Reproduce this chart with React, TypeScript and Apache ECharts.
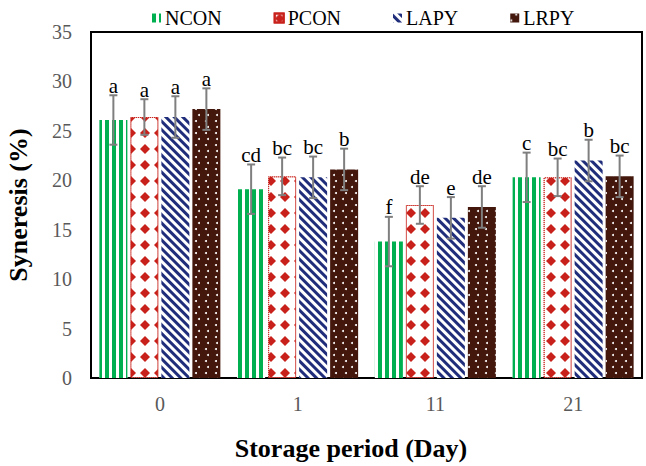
import React, { useEffect, useRef } from "react";
import * as echarts from "echarts";

const categories = ["0", "1", "11", "21"];
const seriesNames = ["NCON", "PCON", "LAPY", "LRPY"];
const nconValues = [26.1, 19.1, 13.8, 20.3];
const pconValues = [26.4, 20.4, 17.5, 20.3];
const lapyValues = [26.4, 20.3, 16.2, 22.0];
const lrpyValues = [27.2, 21.1, 17.3, 20.4];
const nconErr = [2.5, 2.5, 2.5, 2.5];
const pconErr = [1.8, 1.9, 1.9, 1.9];
const lapyErr = [2.1, 2.1, 2.1, 2.1];
const lrpyErr = [2.1, 2.1, 2.1, 2.1];
const nconLetters = ["a", "cd", "f", "c"];
const pconLetters = ["a", "bc", "de", "bc"];
const lapyLetters = ["a", "bc", "e", "b"];
const lrpyLetters = ["a", "b", "de", "bc"];
const yTicks = { min: 0, max: 35, interval: 5 };

const allValues = [nconValues, pconValues, lapyValues, lrpyValues];
const allErr = [nconErr, pconErr, lapyErr, lrpyErr];
const allLetters = [nconLetters, pconLetters, lapyLetters, lrpyLetters];

const SERIF = '"Liberation Serif", "Times New Roman", serif';
const BAR_W = 28;
const BAR_GAP_PX = 3;

export default function App() {
  const ref = useRef<HTMLDivElement>(null);
  useEffect(() => {
    if (!ref.current) return;
    const chart = echarts.init(ref.current, undefined, { renderer: "svg" });

    const styles = [
      {
        itemStyle: {
          color: "#ffffff",
          decal: {
            symbol: "rect",
            symbolSize: 1,
            color: "#00B050",
            dashArrayX: [4, 3],
            dashArrayY: [6, 0],
          },
        },
      },
      {
        itemStyle: {
          color: "#ffffff",
          borderColor: "#C8201A",
          borderWidth: 1,
          borderType: "dotted",
          decal: {
            symbol: "diamond",
            symbolSize: 1,
            color: "#C8201A",
            dashArrayX: [10, 4],
            dashArrayY: [10, 6],
          },
        },
      },
      {
        itemStyle: {
          color: "#ffffff",
          decal: {
            symbol: "rect",
            symbolSize: 1,
            color: "#1F2D7A",
            dashArrayX: [1, 0],
            dashArrayY: [3, 3],
            rotation: Math.PI / 4,
          },
        },
      },
      {
        itemStyle: {
          color: "#43170C",
          decal: {
            symbol: "circle",
            symbolSize: 1,
            color: "#ffffff",
            dashArrayX: [[2, 7], [0, 4.5, 2, 2.5]],
            dashArrayY: [2, 4],
          },
        },
      },
    ];

    const barSeries = seriesNames.map((name, i) => ({
      name,
      type: "bar",
      data: allValues[i],
      barWidth: BAR_W,
      barGap: `${(BAR_GAP_PX / BAR_W) * 100}%`,
      ...styles[i],
    }));

    const errData: number[][] = [];
    allValues.forEach((vals, si) => {
      vals.forEach((v, ci) => {
        errData.push([ci, v, allErr[si][ci], si]);
      });
    });

    const errSeries = {
      type: "custom",
      name: "err",
      data: errData,
      encode: { x: 0, y: 1 },
      z: 10,
      renderItem: (params: any, api: any) => {
        const ci = api.value(0);
        const v = api.value(1);
        const e = api.value(2);
        const si = api.value(3);
        const base = api.coord([ci, v]);
        const x = base[0] + (si - 1.5) * (BAR_W + BAR_GAP_PX);
        const yTop = api.coord([ci, v + e])[1];
        const yBot = api.coord([ci, v - e])[1];
        const lineStyle = { stroke: "#7F7F7F", lineWidth: 2 };
        const cap = 4;
        return {
          type: "group",
          children: [
            { type: "line", shape: { x1: x, y1: yTop, x2: x, y2: yBot }, style: lineStyle },
            { type: "line", shape: { x1: x - cap, y1: yTop, x2: x + cap, y2: yTop }, style: lineStyle },
            { type: "line", shape: { x1: x - cap, y1: yBot, x2: x + cap, y2: yBot }, style: lineStyle },
            {
              type: "text",
              x,
              y: yTop + 1,
              style: {
                text: allLetters[si][ci],
                align: "center",
                verticalAlign: "bottom",
                font: `21px ${SERIF}`,
                fill: "#000000",
              },
            },
          ],
        };
      },
    };

    chart.setOption({
      animation: false,
      backgroundColor: "#ffffff",
      legend: {
        data: seriesNames,
        left: 147,
        top: 3,
        icon: "rect",
        itemWidth: 9,
        itemHeight: 9,
        itemGap: 52,
        textStyle: { fontFamily: SERIF, fontSize: 20, color: "#000000", padding: [0, 0, 0, -1] },
      },
      grid: {
        left: 91,
        right: 4,
        top: 32,
        bottom: 88,
        show: true,
        borderColor: "#000000",
        borderWidth: 2,
        backgroundColor: "transparent",
      },
      xAxis: {
        type: "category",
        data: categories,
        axisLine: { show: true, lineStyle: { color: "#000000", width: 2 } },
        axisTick: { show: false },
        axisLabel: { color: "#595959", fontFamily: SERIF, fontSize: 20, margin: 16 },
      },
      yAxis: {
        type: "value",
        min: yTicks.min,
        max: yTicks.max,
        interval: yTicks.interval,
        splitLine: { show: false },
        axisLine: { show: true, lineStyle: { color: "#000000", width: 2 } },
        axisTick: { show: false },
        axisLabel: { color: "#595959", fontFamily: SERIF, fontSize: 20, margin: 19 },
      },
      graphic: [
        {
          type: "text",
          x: 18,
          y: 205,
          rotation: Math.PI / 2,
          style: {
            text: "Syneresis (%)",
            font: `bold 26px ${SERIF}`,
            align: "center",
            verticalAlign: "middle",
            fill: "#000000",
          },
        },
        {
          type: "text",
          x: 351,
          y: 448,
          style: {
            text: "Storage period (Day)",
            font: `bold 26px ${SERIF}`,
            align: "center",
            verticalAlign: "middle",
            fill: "#000000",
          },
        },
      ],
      series: [...barSeries, errSeries],
    });

    return () => chart.dispose();
  }, []);

  return <div ref={ref} style={{ width: 646, height: 466, position: "absolute", left: 0, top: 0 }} />;
}
